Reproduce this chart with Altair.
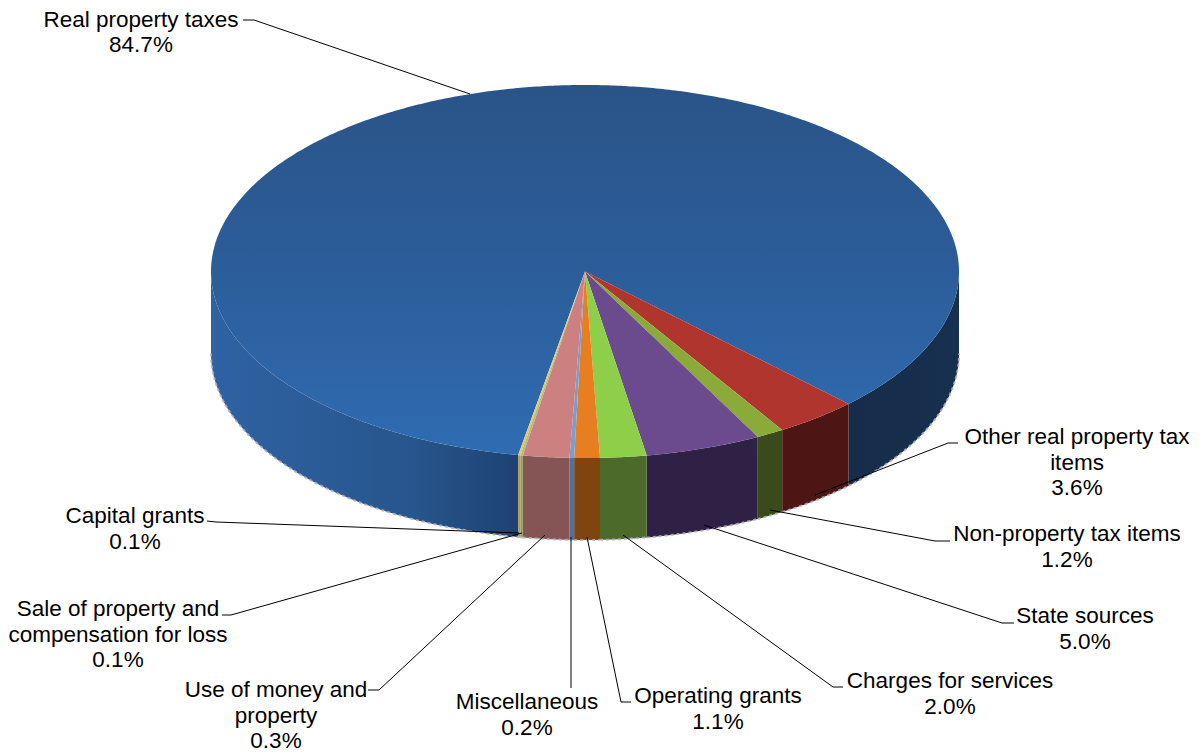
import math
import numpy as np
import pandas as pd
import altair as alt

# ---- data
categories = ["Real property taxes", "Other real property tax\nitems", "Non-property tax items",
              "State sources", "Charges for services", "Operating grants", "Miscellaneous",
              "Use of money and\nproperty", "Sale of property and\ncompensation for loss", "Capital grants"]
label_pct = ["84.7%", "3.6%", "1.2%", "5.0%", "2.0%", "1.1%", "0.2%", "0.3%", "0.1%", "0.1%"]
# share of the circle each slice really occupies in the picture
slice_share = [84.7, 3.6, 1.2, 5.0, 2.0, 1.1, 0.2, 2.0, 0.1, 0.1]
top_colors = ["#2d62a4", "#b0352f", "#8aab3a", "#6b4a8e", "#8ecf4a", "#e77f20", "#7a9ed0", "#cc8080", "#a8c080", "#e6c56a"]
side_colors = ["#25528a", "#4d1614", "#3a4a1a", "#2f2145", "#4c6a2a", "#80450f", "#50709a", "#855454", "#8a9a60", "#b09a50"]

label_cx = [141, 1077, 1067, 1085, 950, 718, 527, 276, 118, 135]
label_cy = [19.5, 437, 534, 616, 681, 696, 702, 690, 609, 516]
LINE_H = 25.6
leaders = [
    [(243, 20), (254, 20), (470, 94)],
    [(958, 443), (948, 443), (815, 495)],
    [(950, 541), (935, 541), (770, 510)],
    [(1014, 623), (1002, 623), (704, 525)],
    [(843, 687), (833, 687), (623, 535)],
    [(631, 702), (621, 702), (587, 537)],
    [(571, 688), (571, 537)],
    [(368, 690), (379, 690), (545, 535)],
    [(222, 615), (231, 615), (522, 533)],
    [(207, 521), (216, 522), (519, 533)],
]

# ---- pie geometry (ellipse, start angle, thickness)
CX, CY, RX, RY, DEPTH = 585.0, 271.5, 374.0, 186.5, 82.0
START = 190.3
DOM_X = [8, 1196]
DOM_Y = [8, 753]

ang = np.arange(0, 360.01, 0.5)
spans = []
cur = START
for s in slice_share:
    spans.append((cur, cur + s * 3.6))
    cur += s * 3.6


def rim(t):
    r = math.radians(t)
    return CX + RX * math.sin(r), CY - RY * math.cos(r)


def in_span(t, lo, hi, tol=1e-6):
    return ((t - lo) % 360) <= (hi - lo) + tol or ((t - lo) % 360) >= 360 - tol


def top_polygon(lo, hi):
    px0, py0 = rim(lo)
    px1, py1 = rim(hi)
    angs = [a for a in ang if in_span(a, lo, hi)] + [lo, hi]
    xs = {round(CX + RX * math.sin(math.radians(a)), 4) for a in angs} | {CX, round(px0, 4), round(px1, 4)}
    if hi - lo > 90:
        xs |= {round(CX + RX * math.sin(math.radians(a)), 4) for a in ang}
    out = []
    for x in sorted(xs):
        cand = []
        for (px, py) in ((px0, py0), (px1, py1)):
            a, b = min(CX, px), max(CX, px)
            if a - 1e-3 <= x <= b + 1e-3 and b > a:
                cand.append(CY + (py - CY) * (x - CX) / (px - CX))
        d = max(-1.0, min(1.0, (x - CX) / RX))
        th = math.degrees(math.asin(d))
        if in_span(th % 360, lo, hi, 1e-2):
            cand.append(CY - RY * math.cos(math.radians(th)))
        if in_span((180 - th) % 360, lo, hi, 1e-2):
            cand.append(CY + RY * math.cos(math.radians(th)))
        if cand:
            out.append({"x": x, "y": min(cand), "y2": max(cand)})
    return pd.DataFrame(out)


def side_polygons(lo, hi):
    res = []
    for k in (0, 1):
        a, b = max(lo, 90 + 360 * k), min(hi, 270 + 360 * k)
        if b > a:
            ts = sorted({a, b} | {t + 360 * k for t in ang if a < t + 360 * k < b})
            rows = []
            for t in ts:
                x, y = rim(t)
                rows.append({"x": x, "y": y, "y2": y + DEPTH})
            res.append(pd.DataFrame(rows).sort_values("x"))
    return res


X = alt.X("x:Q", scale=alt.Scale(domain=DOM_X, nice=False, zero=False), axis=None)
Y = alt.Y("y:Q", scale=alt.Scale(domain=DOM_Y, nice=False, zero=False, reverse=True), axis=None)


def grad(stops, vertical=False):
    n = len(stops) - 1
    return alt.Gradient(
        gradient="linear",
        stops=[alt.GradientStop(color=c, offset=i / n) for i, c in enumerate(stops)],
        x1=0, y1=0, x2=0 if vertical else 1, y2=1 if vertical else 0,
    )


layers = []

# side wall first
for i, (lo, hi) in enumerate(spans):
    for j, df in enumerate(side_polygons(lo, hi)):
        if i == 0 and j == 0:
            col = grad(["#2f62a3", "#2b5c98", "#27558c", "#1e4272"])
        elif i == 0:
            col = grad(["#162c4a", "#17304f"])
        else:
            col = side_colors[i]
        layers.append(alt.Chart(df).mark_area(color=col, line=False).encode(X, Y, y2="y2:Q"))
        rimdf = df.assign(y=df["y2"])
        layers.append(
            alt.Chart(rimdf).mark_line(color="#b4afbc", strokeWidth=2, opacity=0.85, strokeDash=[3, 3]).encode(X, Y)
        )

# top surface
for i, (lo, hi) in enumerate(spans):
    col = grad(["#2a5488", "#2c5d9a", "#2f6cb2"], vertical=True) if i == 0 else top_colors[i]
    layers.append(alt.Chart(top_polygon(lo, hi)).mark_area(color=col, line=False).encode(X, Y, y2="y2:Q"))

# leader lines
lead_rows = []
for i, pts in enumerate(leaders):
    for k, (x, y) in enumerate(pts):
        lead_rows.append({"x": x, "y": y, "id": i, "k": k})
layers.append(
    alt.Chart(pd.DataFrame(lead_rows)).mark_line(color="#000000", strokeWidth=1).encode(X, Y, detail="id:N", order="k:Q")
)

# labels
txt_rows = []
for name, pct, x, y in zip(categories, label_pct, label_cx, label_cy):
    for k, line in enumerate(name.split("\n") + [pct]):
        txt_rows.append({"x": x, "y": y + k * LINE_H, "t": line})
layers.append(
    alt.Chart(pd.DataFrame(txt_rows))
    .mark_text(font="Liberation Sans", fontSize=22.5, color="#000000", align="center", baseline="middle")
    .encode(X, Y, text="t:N")
)

chart = (
    alt.layer(*layers)
    .properties(width=DOM_X[1] - DOM_X[0], height=DOM_Y[1] - DOM_Y[0], padding=0, autosize=alt.AutoSizeParams(type="none"))
    .configure_view(stroke=None)
)
chart.save("out.html", embed_options={"renderer": "svg", "actions": False})
